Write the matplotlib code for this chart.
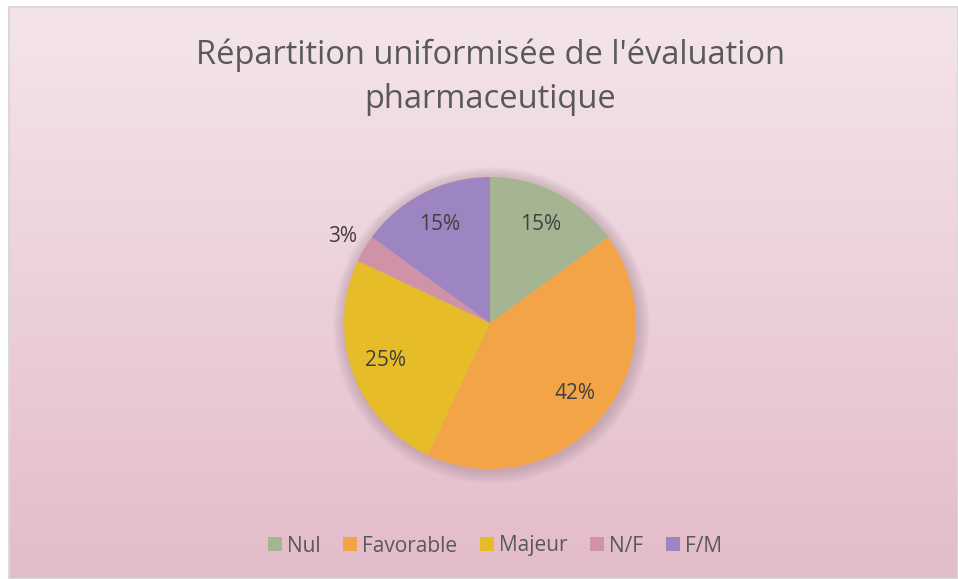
import numpy as np
import matplotlib
matplotlib.use("Agg")
import matplotlib.pyplot as plt
from matplotlib.patches import Rectangle, Circle

categories = ["Nul", "Favorable", "Majeur", "N/F", "F/M"]
values = [15, 42, 25, 3, 15]
colors = ["#A5B592", "#F3A447", "#E7BC29", "#D092A7", "#9C85C0"]
title = "Répartition uniformisée de l'évaluation\npharmaceutique"

plt.rcParams['font.family'] = ['Open Sans', 'DejaVu Sans']

W, H = 958, 579
fig = plt.figure(figsize=(W / 100, H / 100), dpi=100)
fig.patch.set_facecolor("white")

# background gradient panel
bg = fig.add_axes([9 / W, 0, (W - 9) / W, (H - 7) / H])
bg.set_axis_off()
top = np.array([0xF4, 0xE5, 0xEA]) / 255
bot = np.array([0xE3, 0xBC, 0xC9]) / 255
t = np.linspace(0, 1, 256)[:, None]
grad = top[None, :] * (1 - t) + bot[None, :] * t
grad = np.repeat(grad[:, None, :], 2, axis=1)
bg.imshow(grad, aspect="auto", extent=[0, 1, 0, 1])
bg.set_xlim(0, 1)
bg.set_ylim(0, 1)
bg.add_patch(Rectangle((0, 0), 1, 1, transform=bg.transAxes, fill=False,
                       edgecolor="#D9D9D9", linewidth=1.5, clip_on=False))

# pie
cx, cy, r = 490, 323, 146
k = 1.3
R = r * k
ax = fig.add_axes([(cx - R) / W, (H - cy - R) / H, 2 * R / W, 2 * R / H])
ax.set_axis_off()

# soft shadow
for i in range(14):
    rr = 1.0 + 0.006 * (14 - i)
    ax.add_patch(Circle((0.01, -0.015), rr, facecolor="#7a5a66", alpha=0.018,
                        edgecolor="none", zorder=0))

wedges, texts, autotexts = ax.pie(
    values, colors=colors, startangle=90, counterclock=False,
    autopct=lambda p: f"{p:.0f}%", pctdistance=0.76, radius=1.0,
    wedgeprops=dict(linewidth=0),
    textprops=dict(fontsize=15, color="#404040"))
for w in wedges:
    w.set_zorder(2)
for at in autotexts:
    at.set_zorder(3)

# move small slice label outside
w = wedges[3]
ang = np.deg2rad((w.theta1 + w.theta2) / 2)
autotexts[3].set_position((1.17 * np.cos(ang), 1.17 * np.sin(ang)))

ax.set_xlim(-k, k)
ax.set_ylim(-k, k)
ax.set_aspect("equal")

fig.text(cx / W, 1 - 77 / H, title, ha="center", va="center", fontsize=23.5,
         color="#595959", linespacing=1.45)

fig.legend(wedges, categories, loc="center", bbox_to_anchor=(495 / W, 1 - 546 / H),
           ncol=5, frameon=False, fontsize=15, handlelength=0.65, handleheight=0.65,
           handletextpad=0.25, columnspacing=1.1, labelcolor="#595959")

fig.savefig("out.png", dpi=100)
